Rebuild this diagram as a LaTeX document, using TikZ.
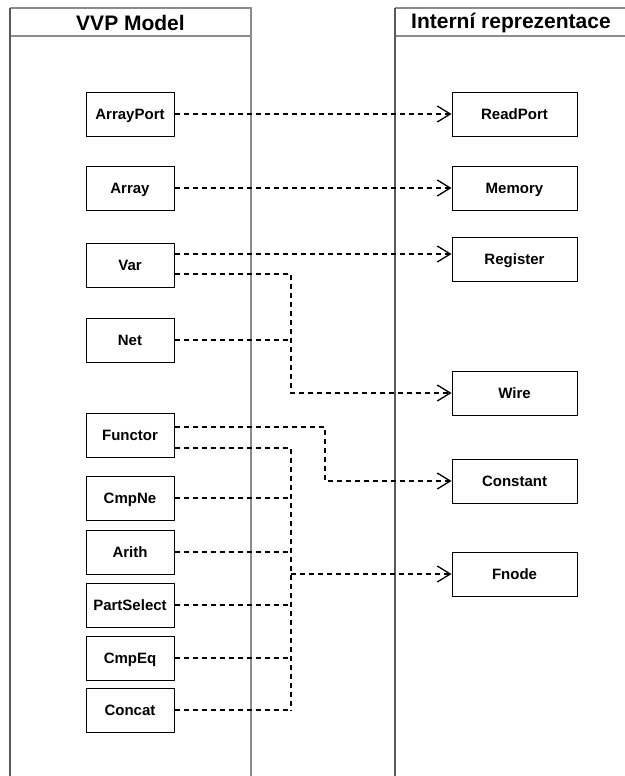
\documentclass[tikz,border=0pt]{standalone}
\usepackage{fontspec}
\setmainfont{Liberation Sans}
\usetikzlibrary{arrows.meta}

\begin{document}
\begin{tikzpicture}[x=1pt,y=-1pt,
  box/.style={draw=black,line width=1pt,fill=white,minimum height=44pt,
    inner sep=0pt,text height=11pt,text depth=0pt,
    font=\fontsize{15}{18}\selectfont\bfseries},
  lbox/.style={box,minimum width=88pt},
  rbox/.style={box,minimum width=125pt},
  head/.style={font=\fontsize{21}{25}\selectfont\bfseries},
  lane/.style={draw=black!45,line width=1.2pt},
  edge/.style={draw=black!65,line width=1.8pt},
  dep/.style={line width=1.3pt,dash pattern=on 5pt off 4pt},
  tip/.style={-{Straight Barb[length=13pt,width=16pt,line width=1.3pt]}}]
  \useasboundingbox (0,0) rectangle (624,776);
  \fill[white] (0,0) rectangle (624,776);

  % swimlanes
  \draw[lane] (251,776) -- (251,8) -- (10,8);
  \draw[lane] (10,36) -- (251,36) (395,36) -- (630,36) (395,8) -- (630,8);
  \draw[edge] (10,776) -- (10,8);
  \draw[edge] (395,776) -- (395,8);
  \node[head] (vvp) at (130.5,22.5) {VVP Model};
  \node[head] (intrep) at (511,22.5) {Interní reprezentace};

  % VVP model classes
  \foreach \n/\y in {ArrayPort/114,Array/188,Var/265,Net/340,Functor/435,
    CmpNe/498,Arith/552,PartSelect/605,CmpEq/658,Concat/710}
    \node[lbox] (\n) at (130,\y) {\n};

  % internal representation
  \foreach \n/\y in {ReadPort/114,Memory/188,Register/259,Wire/393,
    Constant/481,Fnode/574}
    \node[rbox] (\n) at (514.5,\y) {\n};

  \coordinate (busA) at (291,0);
  \coordinate (busB) at (325,0);

  \draw[dep,tip] (ArrayPort.east) -- (ReadPort.west);
  \draw[dep,tip] (Array.east) -- (Memory.west);
  \draw[dep,tip] ([yshift=11pt]Var.east) -- ([yshift=5pt]Register.west);
  \draw[dep,tip] ([yshift=-9pt]Var.east) -| (Wire.west -| busA) -- (Wire.west);
  \draw[dep] (Net.east) -- (Net.east -| busA);

  \draw[dep,tip] ([yshift=8pt]Functor.east) -| (Constant.west -| busB)
    -- (Constant.west);
  \draw[dep] ([yshift=-13pt]Functor.east) -| (Concat.east -| busA);
  \foreach \n in {CmpNe,Arith,PartSelect,CmpEq,Concat}
    \draw[dep] (\n.east) -- (\n.east -| busA);
  \draw[dep,tip,line width=2pt] (Fnode.west -| busA) -- (Fnode.west);
\end{tikzpicture}
\end{document}
